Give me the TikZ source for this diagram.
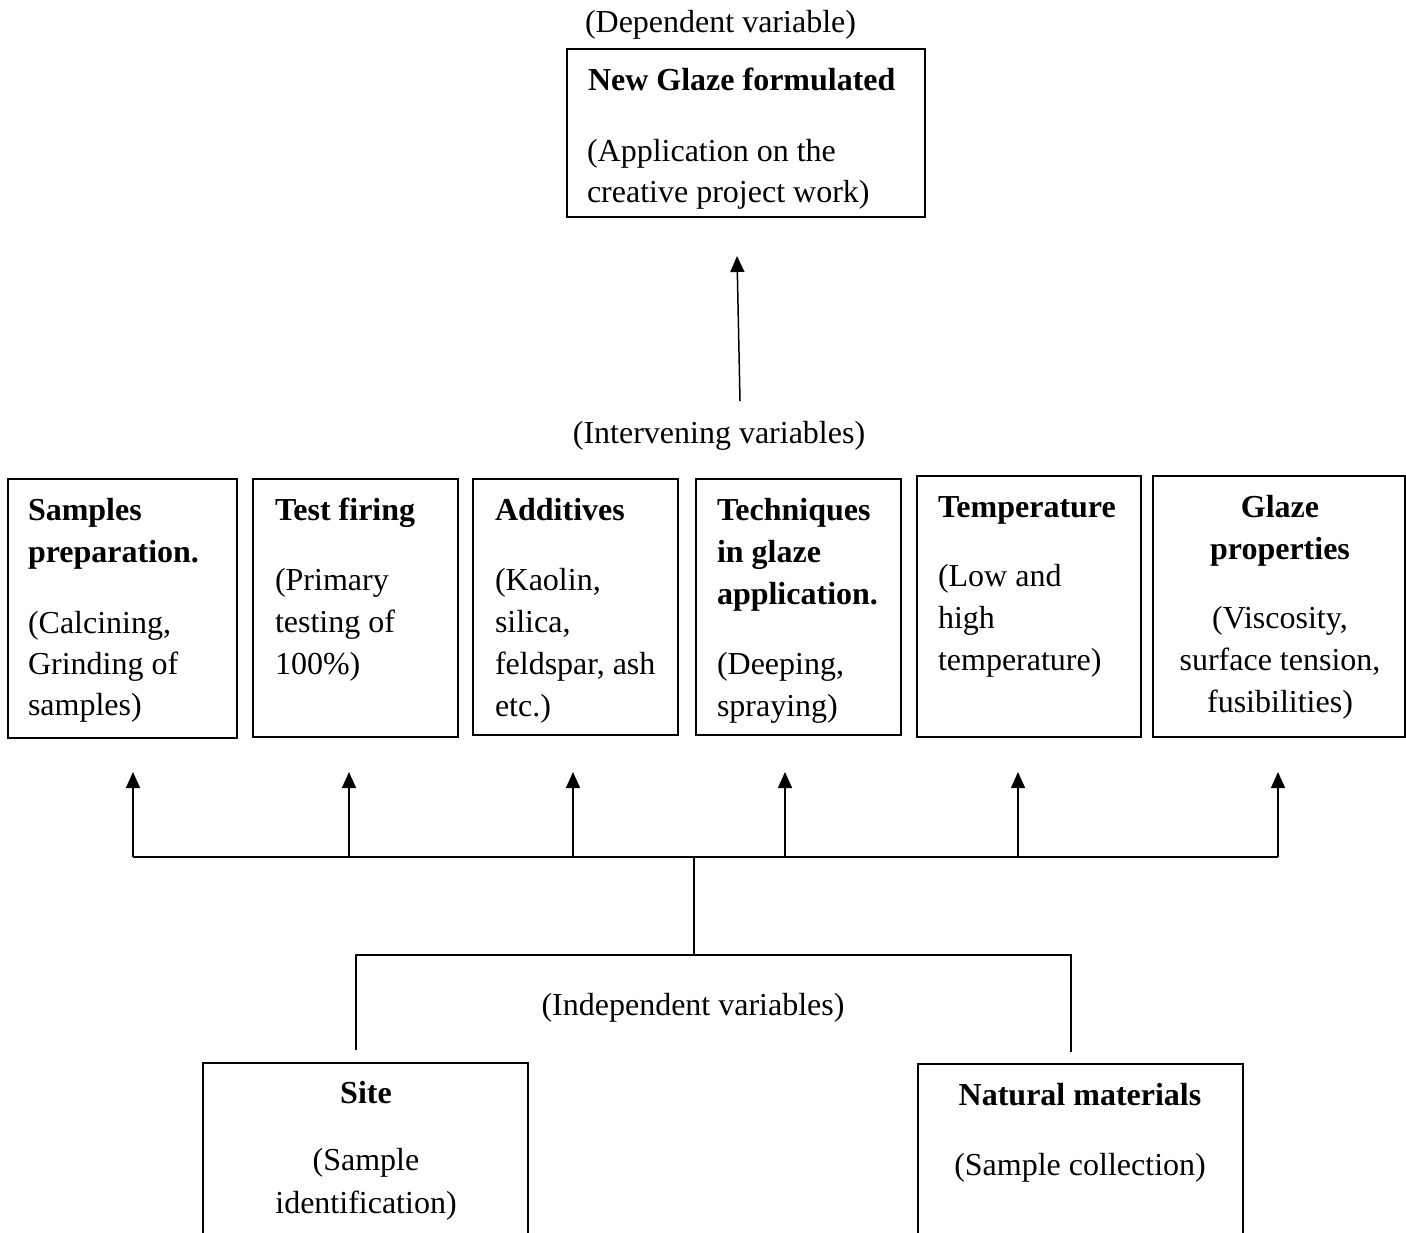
\documentclass[tikz,border=0pt]{standalone}
\usepackage{fontspec}
\setmainfont{Liberation Serif}
\usetikzlibrary{arrows.meta,fit}
\begin{document}
\begin{tikzpicture}[x=.5pt,y=-.5pt,
  box/.style={draw=black,line width=1pt,inner sep=0pt,outer sep=0pt},
  txt/.style={inner sep=0pt,outer sep=0pt,anchor=base west,font=\fontsize{16}{19.2}\selectfont},
  hd/.style={txt,font=\bfseries\fontsize{16}{19.2}\selectfont},
  link/.style={draw=black,line width=0.75pt},
  up/.style={link,-{Triangle[length=8pt,width=7pt]}}]
\path[use as bounding box] (0,0) rectangle (1406,1232);
\node[box,fit={(567,49) (925,217)}] (newglaze) {};
\node[box,fit={(8,479) (237,738)}] (samp) {};
\node[box,fit={(253,479) (458,737)}] (fire) {};
\node[box,fit={(473,479) (678,735)}] (addv) {};
\node[box,fit={(696,479) (901,735)}] (tech) {};
\node[box,fit={(917,476) (1141,737)}] (temp) {};
\node[box,fit={(1153,476) (1405,737)}] (prop) {};
\node[box,fit={(203,1063) (528,1250)}] (site) {};
\node[box,fit={(918,1064) (1243,1250)}] (natm) {};
\node[txt] (dep) at (585,32) {(Dependent variable)};
\node[hd] (newglaze-h) at (588,90) {New Glaze formulated};
\node[txt] (newglaze-b1) at (587,161) {(Application on the};
\node[txt] (newglaze-b2) at (587,202) {creative project work)};
\node[txt,anchor=base] (interv) at (719,443) {(Intervening variables)};
\node[hd] (samp-h1) at (28,520) {Samples};
\node[hd] (samp-h2) at (28,562) {preparation.};
\node[txt] (samp-b1) at (28,633) {(Calcining,};
\node[txt] (samp-b2) at (28,674) {Grinding of};
\node[txt] (samp-b3) at (28,715) {samples)};
\node[hd] (fire-h) at (275,520) {Test firing};
\node[txt] (fire-b1) at (275,590) {(Primary};
\node[txt] (fire-b2) at (275,632) {testing of};
\node[txt] (fire-b3) at (275,674) {100\%)};
\node[hd] (addv-h) at (495,520) {Additives};
\node[txt] (addv-b1) at (495,590) {(Kaolin,};
\node[txt] (addv-b2) at (495,632) {silica,};
\node[txt] (addv-b3) at (495,674) {feldspar, ash};
\node[txt] (addv-b4) at (495,716) {etc.)};
\node[hd] (tech-h1) at (717,520) {Techniques};
\node[hd] (tech-h2) at (717,562) {in glaze};
\node[hd] (tech-h3) at (717,604) {application.};
\node[txt] (tech-b1) at (717,674) {(Deeping,};
\node[txt] (tech-b2) at (717,716) {spraying)};
\node[hd] (temp-h) at (938,517) {Temperature};
\node[txt] (temp-b1) at (938,586) {(Low and};
\node[txt] (temp-b2) at (938,628) {high};
\node[txt] (temp-b3) at (938,670) {temperature)};
\node[hd,anchor=base] (prop-h1) at (1280,517) {Glaze};
\node[hd,anchor=base] (prop-h2) at (1280,559) {properties};
\node[txt,anchor=base] (prop-b1) at (1280,628) {(Viscosity,};
\node[txt,anchor=base] (prop-b2) at (1280,670) {surface tension,};
\node[txt,anchor=base] (prop-b3) at (1280,712) {fusibilities)};
\node[txt,anchor=base] (indep) at (693,1015) {(Independent variables)};
\node[hd,anchor=base] (site-h) at (366,1103) {Site};
\node[txt,anchor=base] (site-b1) at (366,1170) {(Sample};
\node[txt,anchor=base] (site-b2) at (366,1213) {identification)};
\node[hd,anchor=base] (natm-h) at (1080,1105) {Natural materials};
\node[txt,anchor=base] (natm-b) at (1080,1175) {(Sample collection)};
\coordinate (hub) at (694,857);
\coordinate (root) at (694,955);
\foreach \n/\x in {samp/133,fire/349,addv/573,tech/785,temp/1018,prop/1278}
  \coordinate (\n-in) at (\x,772);
\draw[link] (samp-in |- hub) -- (prop-in |- hub);
\foreach \n in {samp,fire,addv,tech,temp,prop}
  \draw[up] (\n-in |- hub) -- (\n-in);
\draw[link] (hub) -- (root);
\coordinate (site-out) at (356,1050);
\coordinate (natm-out) at (1071,1052);
\draw[link] (site-out) -- (site-out |- root) -- (natm-out |- root) -- (natm-out);
\coordinate (mid-out) at (740,401);
\coordinate (newglaze-in) at (737,256);
\draw[up] (mid-out) -- (newglaze-in);
\end{tikzpicture}
\end{document}
